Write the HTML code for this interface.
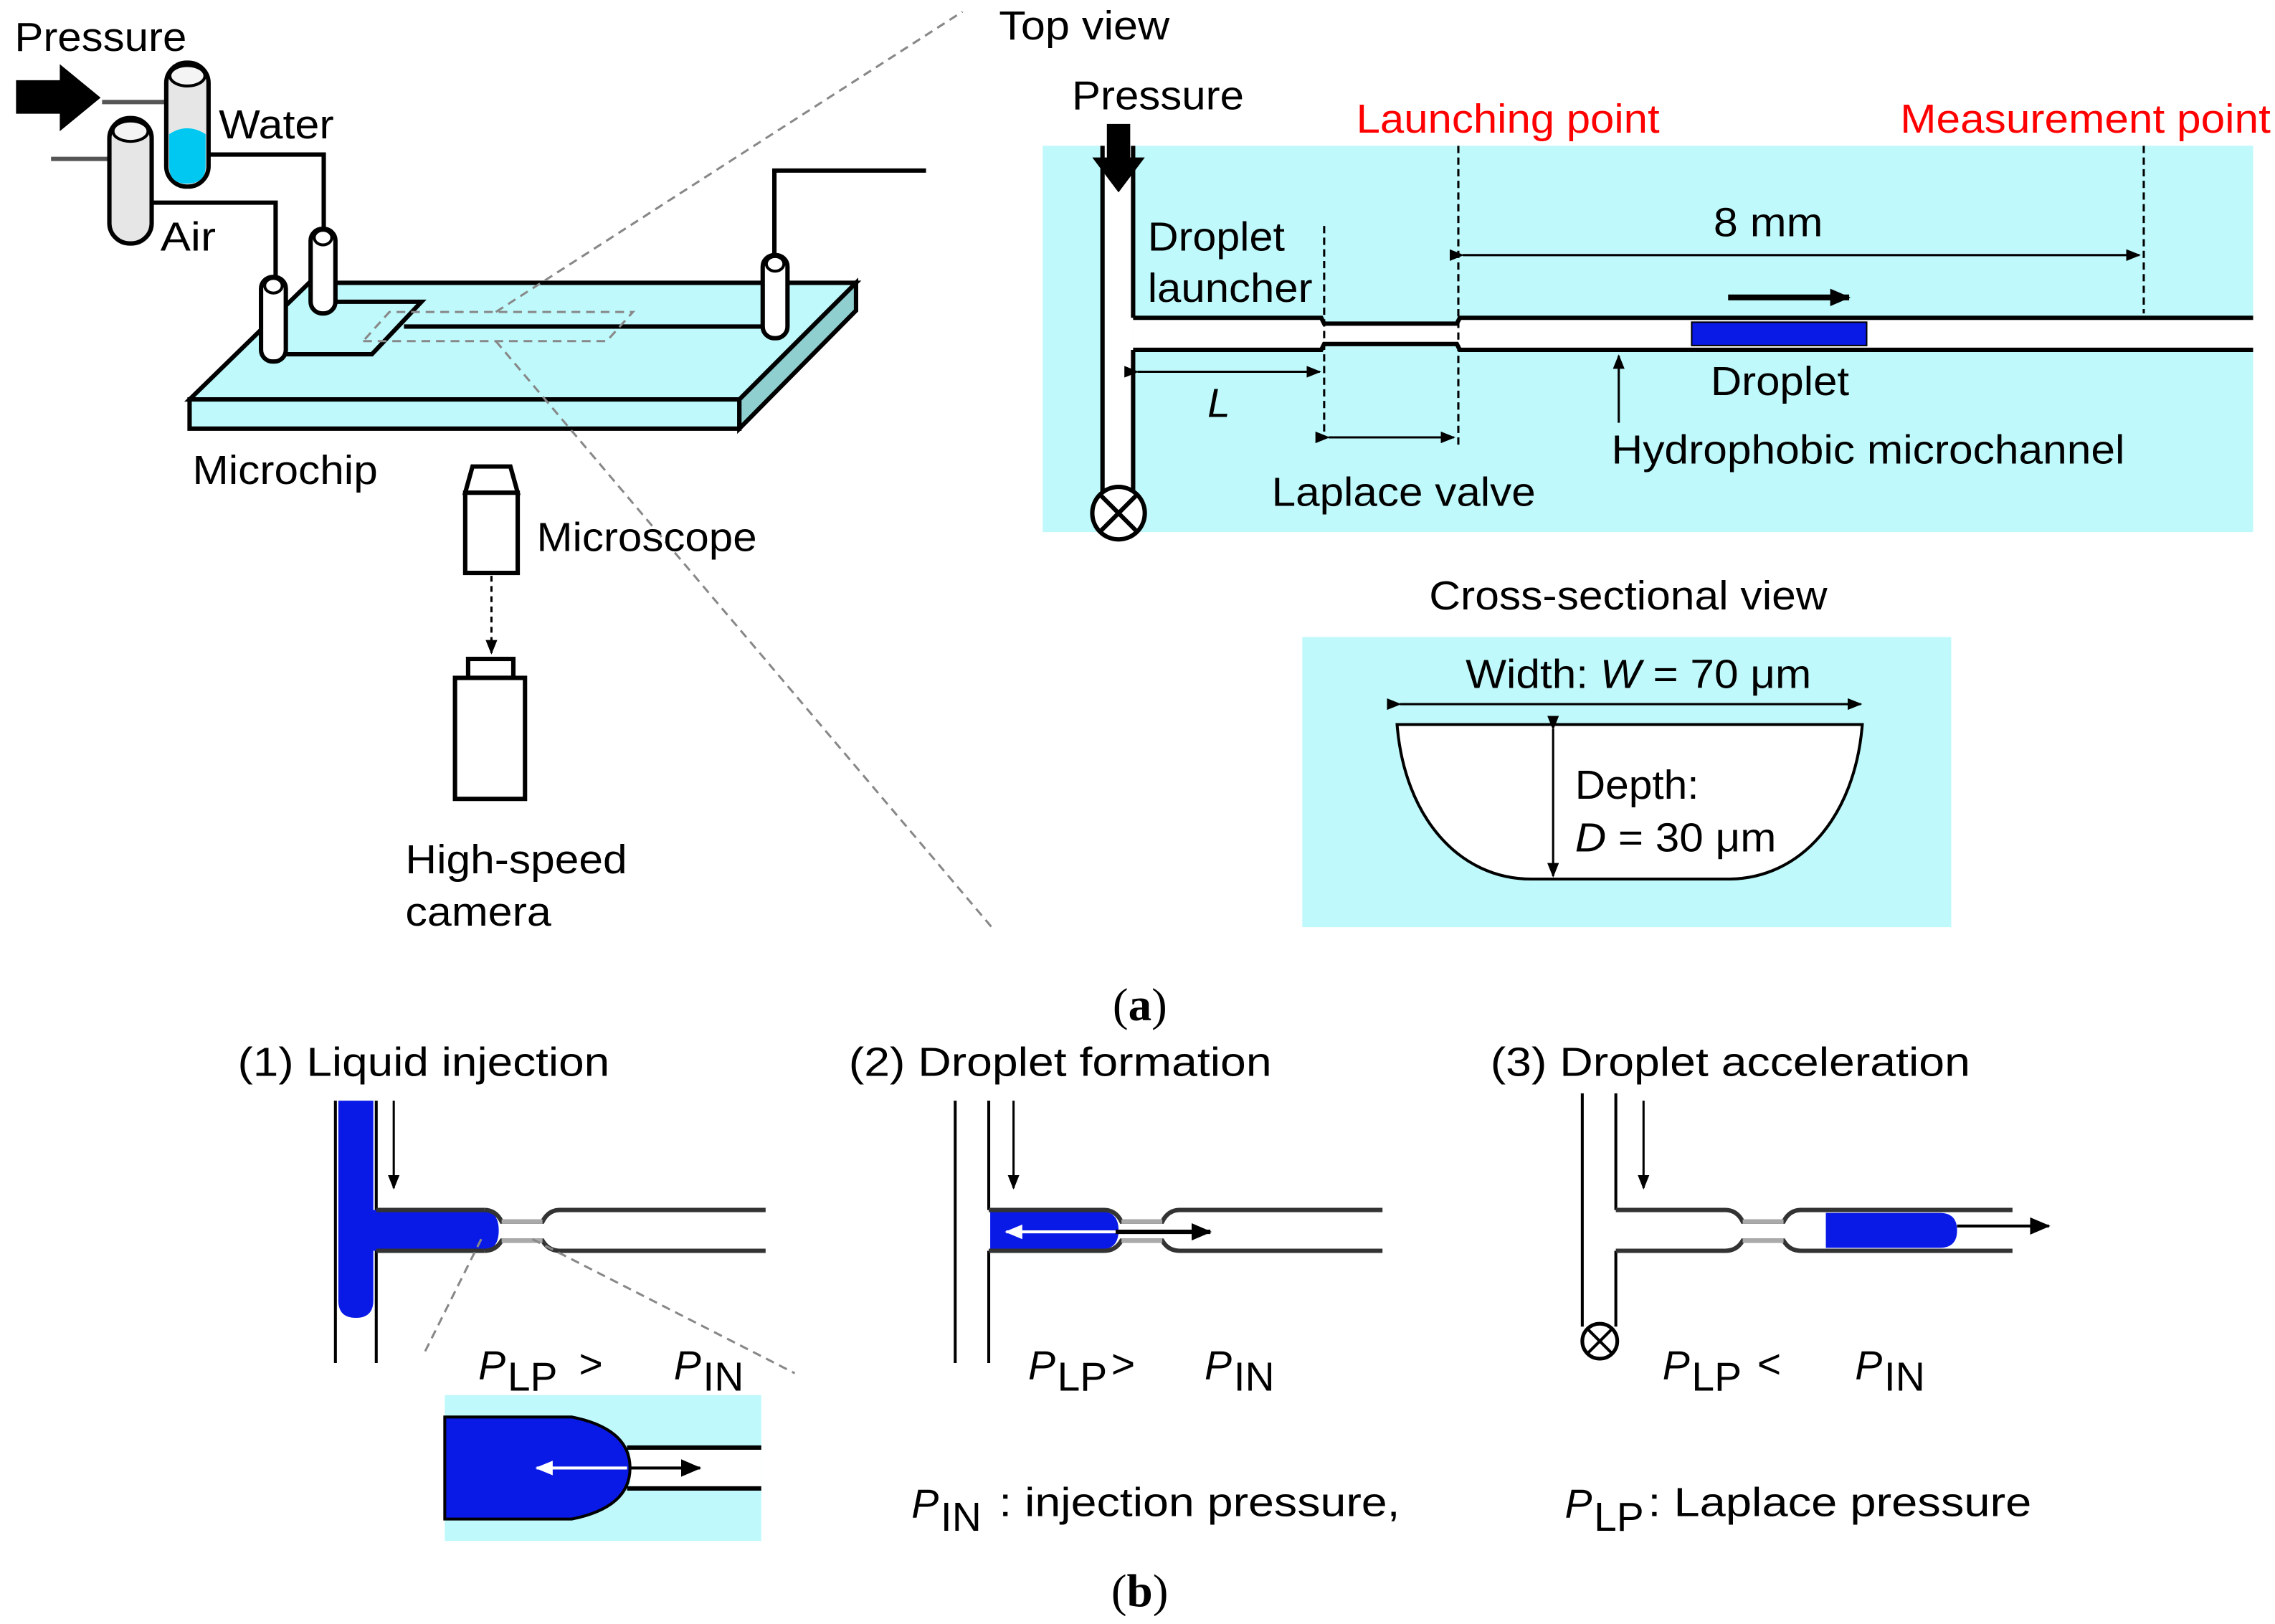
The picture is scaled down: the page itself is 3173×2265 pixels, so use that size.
<!DOCTYPE html>
<html><head><meta charset="utf-8"><style>
html,body{margin:0;padding:0;background:#fff;}
svg{display:block;}
text{font-family:"Liberation Sans",Arial,sans-serif;font-size:28px;fill:#000;}
.red{fill:#f00;}
.ser{font-family:"Liberation Serif",serif;font-size:32px;}
</style></head><body>
<svg width="3173" height="2265" viewBox="0 0 1560 1114" preserveAspectRatio="none" xmlns="http://www.w3.org/2000/svg">
<defs>
<marker id="ah" markerWidth="10" markerHeight="10" refX="9" refY="5" orient="auto" markerUnits="userSpaceOnUse"><path d="M0,1 L10,5 L0,9 Z" fill="#000"/></marker>
<marker id="ahw" markerWidth="12" markerHeight="12" refX="11" refY="6" orient="auto" markerUnits="userSpaceOnUse"><path d="M0,1 L12,6 L0,11 Z" fill="#fff"/></marker>
<marker id="ahb" markerWidth="14" markerHeight="14" refX="13" refY="7" orient="auto" markerUnits="userSpaceOnUse"><path d="M0,1 L14,7 L0,13 Z" fill="#000"/></marker>
</defs>

<!-- ===== (a) left ===== -->
<text x="10" y="35" textLength="118" lengthAdjust="spacingAndGlyphs">Pressure</text>
<path d="M11,55 L41,55 L41,44 L69,67 L41,90 L41,78 L11,78 Z" fill="#000"/>
<line x1="70" y1="70" x2="114" y2="70" stroke="#555" stroke-width="3"/>
<line x1="35" y1="109" x2="75" y2="109" stroke="#555" stroke-width="3"/>
<rect x="75" y="81" width="29" height="86" rx="14" fill="#e6e6e6" stroke="#000" stroke-width="3"/>
<ellipse cx="89.5" cy="90" rx="12" ry="7" fill="#f4f4f4" stroke="#000" stroke-width="2"/>
<rect x="114" y="43" width="29" height="85" rx="14" fill="#e6e6e6" stroke="#000" stroke-width="3"/>
<path d="M116,92 Q128,84 141,92 L141,114 Q141,126 128,126 Q116,126 116,114 Z" fill="#00c8f0"/>
<ellipse cx="128.5" cy="52" rx="12" ry="7" fill="#f4f4f4" stroke="#000" stroke-width="2"/>
<text x="150" y="95" textLength="79" lengthAdjust="spacingAndGlyphs">Water</text>
<text x="110" y="172" textLength="38" lengthAdjust="spacingAndGlyphs">Air</text>
<polyline points="143,106 222,106 222,160" fill="none" stroke="#000" stroke-width="3"/>
<polyline points="104,139 189,139 189,192" fill="none" stroke="#000" stroke-width="3"/>
<polygon points="130,274 507,274 587,194 212,194" fill="#bff9fb" stroke="#000" stroke-width="3"/>
<polygon points="130,274 507,274 507,294 130,294" fill="#bff9fb" stroke="#000" stroke-width="3"/>
<polygon points="507,274 587,194 587,213 507,294" fill="#8fcfcf" stroke="#000" stroke-width="3"/>
<polyline points="196,243 255,243 289,207 225,207" fill="none" stroke="#000" stroke-width="3"/>
<line x1="277" y1="224" x2="526" y2="224" stroke="#000" stroke-width="3"/>
<polygon points="249,234 416,234 434,214 267,214" fill="none" stroke="#888" stroke-width="1.5" stroke-dasharray="6,4"/>
<line x1="340" y1="214" x2="660" y2="8" stroke="#888" stroke-width="1.5" stroke-dasharray="6,4"/>
<line x1="340" y1="234" x2="680" y2="636" stroke="#888" stroke-width="1.5" stroke-dasharray="6,4"/>
<rect x="213" y="157" width="17" height="58" rx="8" fill="#fff" stroke="#000" stroke-width="3"/>
<ellipse cx="221.5" cy="163" rx="6" ry="5" fill="#fff" stroke="#000" stroke-width="2"/>
<rect x="179" y="190" width="17" height="58" rx="8" fill="#fff" stroke="#000" stroke-width="3"/>
<ellipse cx="187.5" cy="196" rx="6" ry="5" fill="#fff" stroke="#000" stroke-width="2"/>
<polyline points="531,178 531,117 635,117" fill="none" stroke="#000" stroke-width="3"/>
<rect x="523" y="175" width="17" height="57" rx="8" fill="#fff" stroke="#000" stroke-width="3"/>
<ellipse cx="531.5" cy="181" rx="6" ry="5" fill="#fff" stroke="#000" stroke-width="2"/>
<text x="132" y="332" textLength="127" lengthAdjust="spacingAndGlyphs">Microchip</text>
<path d="M324,320 L350,320 L355,338 L319,338 Z" fill="#fff" stroke="#000" stroke-width="3"/>
<rect x="319" y="338" width="36" height="55" fill="#fff" stroke="#000" stroke-width="3"/>
<text x="368" y="378" textLength="151" lengthAdjust="spacingAndGlyphs">Microscope</text>
<line x1="337" y1="395" x2="337" y2="448" stroke="#000" stroke-width="1.5" stroke-dasharray="4,3" marker-end="url(#ah)"/>
<rect x="321" y="452" width="31" height="13" fill="#fff" stroke="#000" stroke-width="3"/>
<rect x="312" y="465" width="48" height="83" fill="#fff" stroke="#000" stroke-width="3"/>
<text x="278" y="599" textLength="152" lengthAdjust="spacingAndGlyphs">High-speed</text>
<text x="278" y="635" textLength="100" lengthAdjust="spacingAndGlyphs">camera</text>

<!-- ===== Top view ===== -->
<text x="685" y="27" textLength="117" lengthAdjust="spacingAndGlyphs">Top view</text>
<rect x="715" y="100" width="830" height="265" fill="#bff9fb"/>
<text x="735" y="75" textLength="118" lengthAdjust="spacingAndGlyphs">Pressure</text>
<text x="930" y="91" class="red" textLength="208" lengthAdjust="spacingAndGlyphs">Launching point</text>
<text x="1303" y="91" class="red" textLength="254" lengthAdjust="spacingAndGlyphs">Measurement point</text>
<rect x="756" y="100" width="21" height="240" fill="#fff"/>
<rect x="777" y="219" width="131" height="21" fill="#fff"/>
<rect x="906" y="223" width="96" height="13" fill="#fff"/>
<rect x="1000" y="219" width="545" height="21" fill="#fff"/>
<line x1="756" y1="100" x2="756" y2="340" stroke="#000" stroke-width="3"/>
<line x1="777" y1="100" x2="777" y2="218" stroke="#000" stroke-width="3"/>
<line x1="777" y1="240" x2="777" y2="340" stroke="#000" stroke-width="3"/>
<polyline points="777,218 906,218 908,222 999,222 1001,218 1545,218" fill="none" stroke="#000" stroke-width="3"/>
<polyline points="777,240 906,240 908,236 999,236 1001,240 1545,240" fill="none" stroke="#000" stroke-width="3"/>
<circle cx="767" cy="352" r="18" fill="#fff" stroke="#000" stroke-width="3"/>
<line x1="754" y1="339" x2="780" y2="365" stroke="#000" stroke-width="3"/>
<line x1="780" y1="339" x2="754" y2="365" stroke="#000" stroke-width="3"/>
<path d="M759,85 L775,85 L775,108 L785,108 L767,132 L749,108 L759,108 Z" fill="#000"/>
<line x1="908" y1="155" x2="908" y2="300" stroke="#000" stroke-width="1.5" stroke-dasharray="5,3"/>
<line x1="1000" y1="100" x2="1000" y2="305" stroke="#000" stroke-width="1.5" stroke-dasharray="5,3"/>
<line x1="1470" y1="100" x2="1470" y2="215" stroke="#000" stroke-width="1.5" stroke-dasharray="5,3"/>
<text x="787" y="172" textLength="94" lengthAdjust="spacingAndGlyphs">Droplet</text>
<text x="787" y="207" textLength="113" lengthAdjust="spacingAndGlyphs">launcher</text>
<line x1="780" y1="255" x2="905" y2="255" stroke="#000" stroke-width="1.5" marker-start="url(#ah)" marker-end="url(#ah)"/>
<text x="828" y="286" font-style="italic">L</text>
<line x1="911" y1="300" x2="997" y2="300" stroke="#000" stroke-width="1.5" marker-start="url(#ah)" marker-end="url(#ah)"/>
<text x="872" y="347" textLength="181" lengthAdjust="spacingAndGlyphs">Laplace valve</text>
<text x="1175" y="162" textLength="75" lengthAdjust="spacingAndGlyphs">8 mm</text>
<line x1="1003" y1="175" x2="1467" y2="175" stroke="#000" stroke-width="1.5" marker-start="url(#ah)" marker-end="url(#ah)"/>
<rect x="1160" y="221" width="120" height="16" fill="#0a1ae6" stroke="#000" stroke-width="1"/>
<line x1="1185" y1="204" x2="1268" y2="204" stroke="#000" stroke-width="4" marker-end="url(#ahb)"/>
<text x="1173" y="271" textLength="95" lengthAdjust="spacingAndGlyphs">Droplet</text>
<line x1="1110" y1="290" x2="1110" y2="244" stroke="#000" stroke-width="1.5" marker-end="url(#ah)"/>
<text x="1105" y="318" textLength="352" lengthAdjust="spacingAndGlyphs">Hydrophobic microchannel</text>

<text x="980" y="418" textLength="273" lengthAdjust="spacingAndGlyphs">Cross-sectional view</text>
<rect x="893" y="437" width="445" height="199" fill="#bff9fb"/>
<path d="M958,497 L1277,497 C1272,560 1235,603 1185,603 L1050,603 C1000,603 963,560 958,497 Z" fill="#fff" stroke="#000" stroke-width="2"/>
<line x1="960" y1="483" x2="1276" y2="483" stroke="#000" stroke-width="1.5" marker-start="url(#ah)" marker-end="url(#ah)"/>
<text x="1005" y="472" textLength="237" lengthAdjust="spacingAndGlyphs">Width: <tspan font-style="italic">W</tspan> = 70 μm</text>
<line x1="1065" y1="500" x2="1065" y2="601" stroke="#000" stroke-width="1.5" marker-start="url(#ah)" marker-end="url(#ah)"/>
<text x="1080" y="548" textLength="85" lengthAdjust="spacingAndGlyphs">Depth:</text>
<text x="1080" y="584" textLength="138" lengthAdjust="spacingAndGlyphs"><tspan font-style="italic">D</tspan> = 30 μm</text>

<text x="763" y="700" class="ser">(<tspan font-weight="bold">a</tspan>)</text>

<!-- ===== (b) ===== -->
<text x="163" y="738" textLength="255" lengthAdjust="spacingAndGlyphs">(1) Liquid injection</text>
<text x="582" y="738" textLength="290" lengthAdjust="spacingAndGlyphs">(2) Droplet formation</text>
<text x="1022" y="738" textLength="329" lengthAdjust="spacingAndGlyphs">(3) Droplet acceleration</text>

<line x1="230" y1="755" x2="230" y2="935" stroke="#000" stroke-width="2"/>
<line x1="258" y1="755" x2="258" y2="830" stroke="#000" stroke-width="2"/>
<line x1="258" y1="858" x2="258" y2="935" stroke="#000" stroke-width="2"/>
<path d="M232,755 L256,755 L256,830 L330,830 Q342,830 342,844 Q342,858 330,858 L256,858 L256,892 Q256,904 244,904 Q232,904 232,892 Z" fill="#0a1ae6"/>
<line x1="258" y1="830" x2="332" y2="830" stroke="#333" stroke-width="3"/>
<line x1="258" y1="858" x2="332" y2="858" stroke="#333" stroke-width="3"/>
<path d="M332,830 Q340,830 344,838 L372,838 Q376,830 384,830 L525,830" fill="none" stroke="#333" stroke-width="3"/>
<path d="M332,858 Q340,858 344,851 L372,851 Q376,858 384,858 L525,858" fill="none" stroke="#333" stroke-width="3"/>
<line x1="344" y1="838" x2="372" y2="838" stroke="#aaa" stroke-width="3"/>
<line x1="344" y1="851" x2="372" y2="851" stroke="#aaa" stroke-width="3"/>
<line x1="270" y1="755" x2="270" y2="815" stroke="#000" stroke-width="1.5" marker-end="url(#ah)"/>
<line x1="330" y1="850" x2="290" y2="930" stroke="#888" stroke-width="1.5" stroke-dasharray="6,4"/>
<line x1="365" y1="850" x2="545" y2="942" stroke="#888" stroke-width="1.5" stroke-dasharray="6,4"/>
<text x="328" y="946" font-style="italic" font-size="30">P</text><text x="348" y="954" font-size="19">LP</text>
<text x="397" y="945">&gt;</text>
<text x="462" y="946" font-style="italic" font-size="30">P</text><text x="482" y="954" font-size="19">IN</text>
<rect x="305" y="957" width="217" height="100" fill="#bff9fb"/>
<rect x="432" y="993" width="90" height="28" fill="#fff"/>
<path d="M305,972 L392,972 Q432,980 432,1007 Q432,1034 392,1042 L305,1042 Z" fill="#0a1ae6" stroke="#000" stroke-width="2"/>
<line x1="430" y1="993" x2="522" y2="993" stroke="#000" stroke-width="3"/>
<line x1="430" y1="1021" x2="522" y2="1021" stroke="#000" stroke-width="3"/>
<line x1="430" y1="1007" x2="368" y2="1007" stroke="#fff" stroke-width="2" marker-end="url(#ahw)"/>
<line x1="432" y1="1007" x2="480" y2="1007" stroke="#000" stroke-width="2" marker-end="url(#ahb)"/>

<line x1="655" y1="755" x2="655" y2="935" stroke="#000" stroke-width="2"/>
<line x1="678" y1="755" x2="678" y2="830" stroke="#000" stroke-width="2"/>
<line x1="678" y1="858" x2="678" y2="935" stroke="#000" stroke-width="2"/>
<path d="M679,831 L755,831 Q767,831 767,844 Q767,857 755,857 L679,857 Z" fill="#0a1ae6"/>
<path d="M678,830 L757,830 Q765,830 769,838 L797,838 Q801,830 809,830 L948,830" fill="none" stroke="#333" stroke-width="3"/>
<path d="M678,858 L757,858 Q765,858 769,851 L797,851 Q801,858 809,858 L948,858" fill="none" stroke="#333" stroke-width="3"/>
<line x1="769" y1="838" x2="797" y2="838" stroke="#aaa" stroke-width="3"/>
<line x1="769" y1="851" x2="797" y2="851" stroke="#aaa" stroke-width="3"/>
<line x1="765" y1="845" x2="690" y2="845" stroke="#fff" stroke-width="2" marker-end="url(#ahw)"/>
<line x1="765" y1="845" x2="830" y2="845" stroke="#000" stroke-width="3" marker-end="url(#ahb)"/>
<line x1="695" y1="755" x2="695" y2="815" stroke="#000" stroke-width="1.5" marker-end="url(#ah)"/>
<text x="705" y="946" font-style="italic" font-size="30">P</text><text x="725" y="954" font-size="19">LP</text>
<text x="762" y="945">&gt;</text>
<text x="826" y="946" font-style="italic" font-size="30">P</text><text x="846" y="954" font-size="19">IN</text>
<text x="625" y="1041" font-style="italic" font-size="30">P</text><text x="645" y="1050" font-size="19">IN</text>
<text x="685" y="1040" textLength="275" lengthAdjust="spacingAndGlyphs">: injection pressure,</text>

<line x1="1085" y1="750" x2="1085" y2="910" stroke="#000" stroke-width="2"/>
<line x1="1108" y1="750" x2="1108" y2="830" stroke="#000" stroke-width="2"/>
<line x1="1108" y1="858" x2="1108" y2="910" stroke="#000" stroke-width="2"/>
<circle cx="1097" cy="920" r="12" fill="#fff" stroke="#000" stroke-width="2.5"/>
<line x1="1089" y1="912" x2="1105" y2="928" stroke="#000" stroke-width="2"/>
<line x1="1105" y1="912" x2="1089" y2="928" stroke="#000" stroke-width="2"/>
<path d="M1108,830 L1183,830 Q1191,830 1195,838 L1223,838 Q1227,830 1235,830 L1380,830" fill="none" stroke="#333" stroke-width="3"/>
<path d="M1108,858 L1183,858 Q1191,858 1195,851 L1223,851 Q1227,858 1235,858 L1380,858" fill="none" stroke="#333" stroke-width="3"/>
<line x1="1195" y1="838" x2="1223" y2="838" stroke="#aaa" stroke-width="3"/>
<line x1="1195" y1="851" x2="1223" y2="851" stroke="#aaa" stroke-width="3"/>
<path d="M1252,832 L1330,832 Q1342,832 1342,844 Q1342,856 1330,856 L1252,856 Z" fill="#0a1ae6"/>
<line x1="1342" y1="841" x2="1405" y2="841" stroke="#000" stroke-width="2" marker-end="url(#ahb)"/>
<line x1="1127" y1="755" x2="1127" y2="815" stroke="#000" stroke-width="1.5" marker-end="url(#ah)"/>
<text x="1140" y="946" font-style="italic" font-size="30">P</text><text x="1160" y="954" font-size="19">LP</text>
<text x="1205" y="945">&lt;</text>
<text x="1272" y="946" font-style="italic" font-size="30">P</text><text x="1292" y="954" font-size="19">IN</text>
<text x="1073" y="1041" font-style="italic" font-size="30">P</text><text x="1093" y="1050" font-size="19">LP</text>
<text x="1130" y="1040" textLength="263" lengthAdjust="spacingAndGlyphs">: Laplace pressure</text>

<text x="762" y="1102" class="ser">(<tspan font-weight="bold">b</tspan>)</text>
</svg>
</body></html>
